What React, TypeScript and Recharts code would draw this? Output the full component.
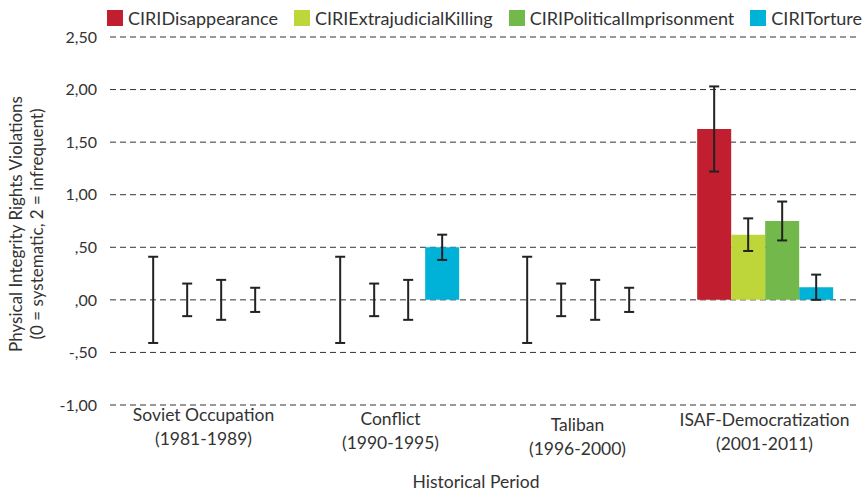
import React from 'react';
import { BarChart, Bar, XAxis, YAxis, CartesianGrid, ErrorBar } from 'recharts';

const periods = ['Soviet Occupation', 'Conflict', 'Taliban', 'ISAF-Democratization'];
const periodYears = ['(1981-1989)', '(1990-1995)', '(1996-2000)', '(2001-2011)'];

const disappearance = [0, 0, 0, 1.625];
const disappearanceErr = [0.41, 0.41, 0.41, 0.405];
const extrajudicial = [0, 0, 0, 0.62];
const extrajudicialErr = [0.155, 0.155, 0.155, 0.155];
const political = [0, 0, 0, 0.75];
const politicalErr = [0.19, 0.19, 0.19, 0.185];
const torture = [0, 0.5, 0, 0.12];
const tortureErr = [0.115, 0.12, 0.115, 0.12];

const yTicks = [-1, -0.5, 0, 0.5, 1, 1.5, 2, 2.5];

const seriesNames = ['CIRIDisappearance', 'CIRIExtrajudicialKilling', 'CIRIPoliticalImprisonment', 'CIRITorture'];
const seriesKeys = ['dis', 'ext', 'pol', 'tor'];
const seriesColors = ['#C11F2F', '#BFD63A', '#73B84B', '#00B1D8'];

const data = periods.map((p, i) => ({
  period: p,
  years: periodYears[i],
  dis: disappearance[i],
  disErr: disappearanceErr[i],
  ext: extrajudicial[i],
  extErr: extrajudicialErr[i],
  pol: political[i],
  polErr: politicalErr[i],
  tor: torture[i],
  torErr: tortureErr[i],
}));

const FONT = 'Lato, "Open Sans", sans-serif';
const TEXT = '#333';

const fmt = (v: number) => {
  const s = Math.abs(v).toFixed(2).replace('.', ',');
  const body = s.startsWith('0,') ? s.slice(1) : s;
  return (v < 0 ? '-' : '') + body;
};

const labelShift = [-4, 0, 6, 1];

const XTick = (props: any) => {
  const { x, y, payload } = props;
  const i = periods.indexOf(payload.value);
  const shift = labelShift[i] || 0;
  return (
    <g transform={`translate(${x},${y})`}>
      <text x={0} y={0} dy={12 + shift} textAnchor="middle" fontFamily={FONT} fontSize={17.5} fill={TEXT}>
        {payload.value}
      </text>
      <text x={0} y={0} dy={36 + shift} textAnchor="middle" fontFamily={FONT} fontSize={17.5} fill={TEXT}>
        {periodYears[i]}
      </text>
    </g>
  );
};

const YTitle = () => (
  <g>
    <text transform="translate(22,224) rotate(-90)" textAnchor="middle" fontFamily={FONT} fontSize={17} fill={TEXT}>
      Physical Integrity Rights Violations
    </text>
    <text transform="translate(43,224) rotate(-90)" textAnchor="middle" fontFamily={FONT} fontSize={17} fill={TEXT}>
      (0 = systematic, 2 = infrequent)
    </text>
  </g>
);

const minSize = (v: any) => (v === 0 ? 0.01 : 0);

export default function App() {
  return (
    <div style={{ position: 'absolute', left: 0, top: 0, width: 862, height: 493, background: '#fff' }}>
      <BarChart
        width={862}
        height={493}
        data={data}
        margin={{ top: 37, right: 4, bottom: 8, left: 0 }}
        barCategoryGap="14%"
        barGap={0}
      >
        <CartesianGrid vertical={false} stroke="#333" strokeDasharray="6 4" />
        <XAxis
          dataKey="period"
          axisLine={false}
          tickLine={false}
          height={80}
          interval={0}
          tick={<XTick />}
          label={{ value: 'Historical Period', position: 'insideBottom', offset: -3, dx: -8, fontFamily: FONT, fontSize: 17.5, fill: TEXT }}
        />
        <YAxis
          width={110}
          domain={[-1, 2.5]}
          ticks={yTicks}
          tickFormatter={fmt}
          axisLine={false}
          tickLine={false}
          tickMargin={7}
          tick={{ fontFamily: FONT, fontSize: 16, fill: TEXT }}
          label={{ content: () => <YTitle /> }}
        />
        {seriesKeys.map((k, i) => (
          <Bar key={k} dataKey={k} name={seriesNames[i]} fill={seriesColors[i]} minPointSize={minSize} isAnimationActive={false}>
            <ErrorBar dataKey={`${k}Err`} width={5} stroke="#222" strokeWidth={2} direction="y" />
          </Bar>
        ))}
      </BarChart>
      <div
        style={{
          position: 'absolute',
          left: 107,
          top: 8,
          display: 'flex',
          alignItems: 'center',
          fontFamily: FONT,
          fontSize: 18,
          color: TEXT,
          whiteSpace: 'nowrap',
        }}
      >
        {seriesNames.map((n, i) => (
          <div key={n} style={{ display: 'flex', alignItems: 'center', marginRight: 16 }}>
            <span style={{ display: 'inline-block', width: 16, height: 16, background: seriesColors[i], marginRight: 5 }} />
            <span style={{ lineHeight: '20px' }}>{n}</span>
          </div>
        ))}
      </div>
    </div>
  );
}
